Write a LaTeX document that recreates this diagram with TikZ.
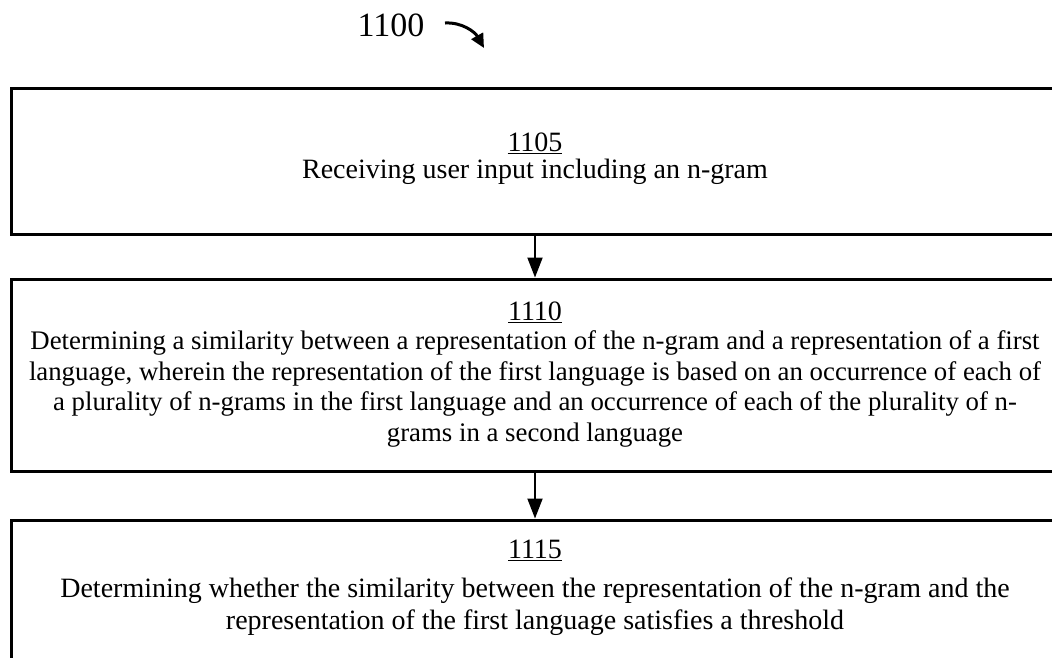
\documentclass[tikz,border=0pt]{standalone}
\usepackage{fontspec}
\setmainfont{Liberation Serif}
\usetikzlibrary{arrows.meta}
\begin{document}
\begin{tikzpicture}[x=1pt,y=-1pt,
  stepbox/.style={draw,line width=3pt,minimum width=1048pt,inner sep=0pt},
  num/.style={inner sep=0pt,font=\fontsize{28}{32}\selectfont},
  txt/.style={inner sep=0pt,align=center},
  flow/.style={line width=2pt,-{Triangle[length=20pt,width=15pt]}}]
\useasboundingbox (0,0) rectangle (1052,657);
\node[font=\fontsize{34}{40}\selectfont] (lbl) at (391,25) {1100};
\coordinate (ca) at (445,23);
\coordinate (cb) at (484,48);
\draw[line width=3pt,-{Triangle[length=14pt,width=13pt]}] (ca) .. controls (462,22) and (475,32) .. (cb);
\node[stepbox,minimum height=146pt] (b1) at (535,161) {};
\node[stepbox,minimum height=192pt] (b2) at (535,375) {};
\node[stepbox,minimum height=140pt] (b3) at (535,590) {};
\node[num] (n1) at (535,143) {\underline{1105}};
\node[txt,font=\fontsize{28}{32}\selectfont] (t1) at (535,172) {Receiving user input including an n-gram};
\node[num] (n2) at (535,312) {\underline{1110}};
\node[txt,font=\fontsize{26.8}{30.7}\selectfont] (t2) at (535,389) {Determining a similarity between a representation of the n-gram and a representation of a first\\language, wherein the representation of the first language is based on an occurrence of each of\\a plurality of n-grams in the first language and an occurrence of each of the plurality of n-\\grams in a second language};
\node[num] (n3) at (535,550) {\underline{1115}};
\node[txt,font=\fontsize{28}{32}\selectfont] (t3) at (535,607) {Determining whether the similarity between the representation of the n-gram and the\\representation of the first language satisfies a threshold};
\draw[flow] (b1.south) -- (b2.north);
\draw[flow] (b2.south) -- (b3.north);
\end{tikzpicture}
\end{document}
